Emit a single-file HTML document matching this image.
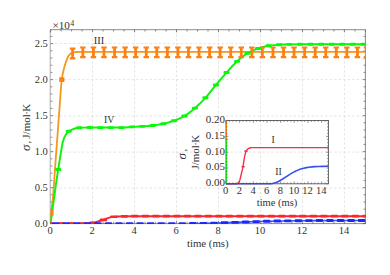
<!DOCTYPE html>
<html><head><meta charset="utf-8"><title>chart</title>
<style>html,body{margin:0;padding:0;background:#fff;}body{width:390px;height:275px;overflow:hidden;font-family:"Liberation Serif",serif;}</style></head>
<body>
<svg width="390" height="275" viewBox="0 0 390 275" style="display:block">
<rect width="390" height="275" fill="#fff"/>
<path d="M92.57,29.7 V223.6 M134.55,29.7 V223.6 M176.52,29.7 V223.6 M218.49,29.7 V223.6 M260.47,29.7 V223.6 M302.44,29.7 V223.6 M344.41,29.7 V223.6 M50.6,188.10 H365.4 M50.6,152.10 H365.4 M50.6,116.10 H365.4 M50.6,79.60 H365.4 M50.6,43.50 H365.4" stroke="#d6d6d6" stroke-width="0.65" stroke-dasharray="2.4,2.1" fill="none"/>
<path d="M50.30,29.7 V223.6" fill="none" stroke="#c2c2c2" stroke-width="1.4"/>
<path d="M50.00,29.7 H365.4 V223.6 H50.00" fill="none" stroke="#4a4a4a" stroke-width="0.65"/>
<path d="M50.60,223.6 v-2.6 M50.60,29.7 v2.6 M61.09,223.6 v-1.8 M61.09,29.7 v1.8 M71.59,223.6 v-1.8 M71.59,29.7 v1.8 M82.08,223.6 v-1.8 M82.08,29.7 v1.8 M92.57,223.6 v-2.6 M92.57,29.7 v2.6 M103.07,223.6 v-1.8 M103.07,29.7 v1.8 M113.56,223.6 v-1.8 M113.56,29.7 v1.8 M124.05,223.6 v-1.8 M124.05,29.7 v1.8 M134.55,223.6 v-2.6 M134.55,29.7 v2.6 M145.04,223.6 v-1.8 M145.04,29.7 v1.8 M155.53,223.6 v-1.8 M155.53,29.7 v1.8 M166.03,223.6 v-1.8 M166.03,29.7 v1.8 M176.52,223.6 v-2.6 M176.52,29.7 v2.6 M187.01,223.6 v-1.8 M187.01,29.7 v1.8 M197.51,223.6 v-1.8 M197.51,29.7 v1.8 M208.00,223.6 v-1.8 M208.00,29.7 v1.8 M218.49,223.6 v-2.6 M218.49,29.7 v2.6 M228.99,223.6 v-1.8 M228.99,29.7 v1.8 M239.48,223.6 v-1.8 M239.48,29.7 v1.8 M249.97,223.6 v-1.8 M249.97,29.7 v1.8 M260.47,223.6 v-2.6 M260.47,29.7 v2.6 M270.96,223.6 v-1.8 M270.96,29.7 v1.8 M281.45,223.6 v-1.8 M281.45,29.7 v1.8 M291.95,223.6 v-1.8 M291.95,29.7 v1.8 M302.44,223.6 v-2.6 M302.44,29.7 v2.6 M312.93,223.6 v-1.8 M312.93,29.7 v1.8 M323.43,223.6 v-1.8 M323.43,29.7 v1.8 M333.92,223.6 v-1.8 M333.92,29.7 v1.8 M344.41,223.6 v-2.6 M344.41,29.7 v2.6 M354.91,223.6 v-1.8 M354.91,29.7 v1.8 M365.40,223.6 v-1.8 M365.40,29.7 v1.8 M50.6,223.60 h2.6 M365.4,223.60 h-2.6 M50.6,216.40 h1.8 M365.4,216.40 h-1.8 M50.6,209.20 h1.8 M365.4,209.20 h-1.8 M50.6,202.00 h1.8 M365.4,202.00 h-1.8 M50.6,194.80 h1.8 M365.4,194.80 h-1.8 M50.6,187.60 h2.6 M365.4,187.60 h-2.6 M50.6,180.40 h1.8 M365.4,180.40 h-1.8 M50.6,173.20 h1.8 M365.4,173.20 h-1.8 M50.6,166.00 h1.8 M365.4,166.00 h-1.8 M50.6,158.80 h1.8 M365.4,158.80 h-1.8 M50.6,151.60 h2.6 M365.4,151.60 h-2.6 M50.6,144.40 h1.8 M365.4,144.40 h-1.8 M50.6,137.20 h1.8 M365.4,137.20 h-1.8 M50.6,130.00 h1.8 M365.4,130.00 h-1.8 M50.6,122.80 h1.8 M365.4,122.80 h-1.8 M50.6,115.60 h2.6 M365.4,115.60 h-2.6 M50.6,108.40 h1.8 M365.4,108.40 h-1.8 M50.6,101.20 h1.8 M365.4,101.20 h-1.8 M50.6,94.00 h1.8 M365.4,94.00 h-1.8 M50.6,86.80 h1.8 M365.4,86.80 h-1.8 M50.6,79.60 h2.6 M365.4,79.60 h-2.6 M50.6,72.40 h1.8 M365.4,72.40 h-1.8 M50.6,65.20 h1.8 M365.4,65.20 h-1.8 M50.6,58.00 h1.8 M365.4,58.00 h-1.8 M50.6,50.80 h1.8 M365.4,50.80 h-1.8 M50.6,43.60 h2.6 M365.4,43.60 h-2.6 M50.6,36.40 h1.8 M365.4,36.40 h-1.8" stroke="#4a4a4a" stroke-width="0.65" fill="none"/>
<clipPath id="mc"><rect x="50.30" y="29.7" width="315.70" height="194.35"/></clipPath>
<g clip-path="url(#mc)">
<path d="M50.60,222.21 L51.12,215.34 L51.54,210.53 L52.70,200.11 L53.12,195.38 L55.43,163.16 L59.73,105.44 L60.78,90.70 L61.30,84.22 L61.72,80.19 L62.46,75.38 L62.88,73.20 L63.51,70.39 L64.14,67.87 L64.77,65.61 L65.50,63.26 L66.24,61.15 L67.49,57.87 L68.02,56.72 L68.44,55.99 L69.17,55.02 L69.91,54.24 L70.64,53.64 L71.69,52.99 L72.32,52.69 L72.85,52.51 L73.90,52.27 L74.94,52.10 L76.52,51.98 L79.77,51.90 L365.40,51.90" stroke="#f4981e" stroke-width="1.8" fill="none" stroke-linejoin="round"/>
<path d="M50.60,222.25 L53.54,201.86 L55.74,185.64 L56.58,179.78 L60.25,156.36 L61.93,146.35 L62.56,142.99 L62.98,141.21 L63.72,138.97 L64.45,137.19 L65.40,135.38 L66.55,133.57 L67.60,132.27 L68.54,131.43 L69.80,130.61 L70.96,130.02 L71.90,129.60 L74.94,128.50 L75.78,128.25 L77.25,127.92 L78.72,127.71 L83.13,127.60 L88.38,127.55 L121.95,127.59 L124.58,127.46 L131.40,126.92 L143.47,126.33 L147.66,126.01 L151.86,125.59 L155.53,125.14 L159.21,124.55 L163.40,123.74 L166.03,123.13 L169.17,122.25 L172.85,121.06 L176.00,119.91 L178.62,118.83 L181.24,117.61 L183.87,116.25 L185.96,115.03 L188.06,113.61 L191.21,111.22 L194.88,108.17 L196.98,106.32 L199.61,103.83 L203.28,100.08 L205.38,97.83 L206.95,96.07 L209.57,92.92 L214.82,86.36 L220.59,79.44 L224.79,74.53 L230.04,68.61 L232.66,65.73 L234.76,63.56 L236.86,61.57 L240.00,58.77 L242.63,56.60 L245.25,54.68 L247.35,53.38 L249.97,51.94 L253.12,50.41 L255.74,49.31 L258.89,48.20 L262.04,47.20 L264.14,46.62 L266.24,46.15 L268.34,45.81 L271.48,45.40 L274.11,45.13 L277.26,44.88 L282.50,44.59 L286.18,44.45 L293.00,44.36 L305.59,44.30 L365.40,44.30" stroke="#0cf40c" stroke-width="1.95" fill="none" stroke-linejoin="round"/>
<path d="M84.18,223.57 L87.33,223.47 L88.90,223.37 L91.52,223.08 L93.62,222.73 L95.20,222.31 L97.82,221.52 L102.02,220.38 L103.07,220.00 L106.21,218.67 L107.26,218.28 L109.36,217.61 L111.46,217.07 L113.04,216.85 L115.13,216.66 L118.81,216.44 L121.43,216.34 L131.40,216.22 L365.40,216.22" stroke="#f0283a" stroke-width="1.9" fill="none"/>
<path d="M189.11,223.59 L199.61,223.47 L210.62,223.21 L221.64,222.86 L257.32,221.56 L270.44,221.19 L283.03,220.93 L298.24,220.71 L315.03,220.58 L335.49,220.51 L365.40,220.49" stroke="#2860e2" stroke-width="1.6" fill="none"/>
<path d="M72.61,48.70 V58.30 M82.87,47.50 V57.10 M93.43,47.50 V57.10 M103.99,47.50 V57.10 M114.55,47.50 V57.10 M125.11,47.50 V57.10 M135.67,47.50 V57.10 M146.23,47.50 V57.10 M156.79,47.50 V57.10 M167.35,47.50 V57.10 M177.91,47.50 V57.10 M188.47,47.50 V57.10 M199.03,47.50 V57.10 M209.59,47.50 V57.10 M220.15,47.50 V57.10 M230.71,47.50 V57.10 M241.27,47.50 V57.10 M251.83,47.50 V57.10 M262.39,47.50 V57.10 M272.95,47.50 V57.10 M283.51,47.50 V57.10 M294.07,47.50 V57.10 M304.63,47.50 V57.10 M315.19,47.50 V57.10 M325.75,47.50 V57.10 M336.31,47.50 V57.10 M346.87,47.50 V57.10 M357.43,47.50 V57.10 M366.50,47.50 V57.10" stroke="#ff8010" stroke-width="2.8" fill="none"/>
<path d="M69.86,48.70 h5.5 M69.86,58.30 h5.5 M80.12,47.50 h5.5 M80.12,57.10 h5.5 M90.68,47.50 h5.5 M90.68,57.10 h5.5 M101.24,47.50 h5.5 M101.24,57.10 h5.5 M111.80,47.50 h5.5 M111.80,57.10 h5.5 M122.36,47.50 h5.5 M122.36,57.10 h5.5 M132.92,47.50 h5.5 M132.92,57.10 h5.5 M143.48,47.50 h5.5 M143.48,57.10 h5.5 M154.04,47.50 h5.5 M154.04,57.10 h5.5 M164.60,47.50 h5.5 M164.60,57.10 h5.5 M175.16,47.50 h5.5 M175.16,57.10 h5.5 M185.72,47.50 h5.5 M185.72,57.10 h5.5 M196.28,47.50 h5.5 M196.28,57.10 h5.5 M206.84,47.50 h5.5 M206.84,57.10 h5.5 M217.40,47.50 h5.5 M217.40,57.10 h5.5 M227.96,47.50 h5.5 M227.96,57.10 h5.5 M238.52,47.50 h5.5 M238.52,57.10 h5.5 M249.08,47.50 h5.5 M249.08,57.10 h5.5 M259.64,47.50 h5.5 M259.64,57.10 h5.5 M270.20,47.50 h5.5 M270.20,57.10 h5.5 M280.76,47.50 h5.5 M280.76,57.10 h5.5 M291.32,47.50 h5.5 M291.32,57.10 h5.5 M301.88,47.50 h5.5 M301.88,57.10 h5.5 M312.44,47.50 h5.5 M312.44,57.10 h5.5 M323.00,47.50 h5.5 M323.00,57.10 h5.5 M333.56,47.50 h5.5 M333.56,57.10 h5.5 M344.12,47.50 h5.5 M344.12,57.10 h5.5 M354.68,47.50 h5.5 M354.68,57.10 h5.5 M363.75,47.50 h5.5 M363.75,57.10 h5.5" stroke="#ff8010" stroke-width="2.2" fill="none"/>
<rect x="59.20" y="77.30" width="5.2" height="4.6" fill="#ff8010"/>
<path d="M51.8,209.6 V215 M50.1,209.9 h3.6 M50.1,214.7 h3.6" stroke="#ff8010" stroke-width="1.5" fill="none"/>
<rect x="50.3" y="210.8" width="3.2" height="3" fill="#ff8010"/>
<rect x="55.20" y="168.05" width="6" height="2.9" rx="1" fill="#04fb04"/>
<rect x="65.72" y="129.85" width="6" height="2.9" rx="1" fill="#04fb04"/>
<rect x="76.24" y="126.24" width="6" height="2.9" rx="1" fill="#04fb04"/>
<rect x="86.76" y="126.10" width="6" height="2.9" rx="1" fill="#04fb04"/>
<rect x="97.28" y="126.13" width="6" height="2.9" rx="1" fill="#04fb04"/>
<rect x="107.80" y="126.15" width="6" height="2.9" rx="1" fill="#04fb04"/>
<rect x="118.32" y="126.15" width="6" height="2.9" rx="1" fill="#04fb04"/>
<rect x="128.84" y="125.45" width="6" height="2.9" rx="1" fill="#04fb04"/>
<rect x="139.36" y="124.95" width="6" height="2.9" rx="1" fill="#04fb04"/>
<rect x="149.88" y="124.03" width="6" height="2.9" rx="1" fill="#04fb04"/>
<rect x="160.40" y="122.29" width="6" height="2.9" rx="1" fill="#04fb04"/>
<rect x="170.92" y="119.24" width="6" height="2.9" rx="1" fill="#04fb04"/>
<rect x="181.44" y="114.48" width="6" height="2.9" rx="1" fill="#04fb04"/>
<rect x="191.96" y="106.66" width="6" height="2.9" rx="1" fill="#04fb04"/>
<rect x="202.48" y="96.27" width="6" height="2.9" rx="1" fill="#04fb04"/>
<rect x="213.00" y="83.49" width="6" height="2.9" rx="1" fill="#04fb04"/>
<rect x="223.52" y="71.12" width="6" height="2.9" rx="1" fill="#04fb04"/>
<rect x="234.04" y="59.95" width="6" height="2.9" rx="1" fill="#04fb04"/>
<rect x="244.56" y="51.81" width="6" height="2.9" rx="1" fill="#04fb04"/>
<rect x="255.08" y="47.02" width="6" height="2.9" rx="1" fill="#04fb04"/>
<rect x="265.60" y="44.32" width="6" height="2.9" rx="1" fill="#04fb04"/>
<rect x="276.12" y="43.32" width="6" height="2.9" rx="1" fill="#04fb04"/>
<rect x="286.64" y="42.94" width="6" height="2.9" rx="1" fill="#04fb04"/>
<rect x="297.16" y="42.87" width="6" height="2.9" rx="1" fill="#04fb04"/>
<rect x="307.68" y="42.85" width="6" height="2.9" rx="1" fill="#04fb04"/>
<rect x="318.20" y="42.85" width="6" height="2.9" rx="1" fill="#04fb04"/>
<rect x="328.72" y="42.85" width="6" height="2.9" rx="1" fill="#04fb04"/>
<rect x="339.24" y="42.85" width="6" height="2.9" rx="1" fill="#04fb04"/>
<rect x="349.76" y="42.85" width="6" height="2.9" rx="1" fill="#04fb04"/>
<rect x="360.28" y="42.85" width="6" height="2.9" rx="1" fill="#04fb04"/>
<rect x="47.25" y="222.25" width="7.3" height="2.7" rx="0.8" fill="#ff2626"/>
<rect x="57.75" y="222.25" width="7.3" height="2.7" rx="0.8" fill="#ff2626"/>
<rect x="68.25" y="222.25" width="7.3" height="2.7" rx="0.8" fill="#ff2626"/>
<rect x="78.75" y="222.25" width="7.3" height="2.7" rx="0.8" fill="#ff2626"/>
<rect x="89.25" y="221.53" width="7.3" height="2.7" rx="0.8" fill="#ff2626"/>
<rect x="99.75" y="218.51" width="7.3" height="2.7" rx="0.8" fill="#ff2626"/>
<rect x="110.25" y="215.41" width="7.3" height="2.7" rx="0.8" fill="#ff2626"/>
<rect x="120.75" y="214.94" width="7.3" height="2.7" rx="0.8" fill="#ff2626"/>
<rect x="131.25" y="214.87" width="7.3" height="2.7" rx="0.8" fill="#ff2626"/>
<rect x="141.75" y="214.87" width="7.3" height="2.7" rx="0.8" fill="#ff2626"/>
<rect x="152.25" y="214.87" width="7.3" height="2.7" rx="0.8" fill="#ff2626"/>
<rect x="162.75" y="214.87" width="7.3" height="2.7" rx="0.8" fill="#ff2626"/>
<rect x="173.25" y="214.87" width="7.3" height="2.7" rx="0.8" fill="#ff2626"/>
<rect x="183.75" y="214.87" width="7.3" height="2.7" rx="0.8" fill="#ff2626"/>
<rect x="194.25" y="214.87" width="7.3" height="2.7" rx="0.8" fill="#ff2626"/>
<rect x="204.75" y="214.87" width="7.3" height="2.7" rx="0.8" fill="#ff2626"/>
<rect x="215.25" y="214.87" width="7.3" height="2.7" rx="0.8" fill="#ff2626"/>
<rect x="225.75" y="214.87" width="7.3" height="2.7" rx="0.8" fill="#ff2626"/>
<rect x="236.25" y="214.87" width="7.3" height="2.7" rx="0.8" fill="#ff2626"/>
<rect x="246.75" y="214.87" width="7.3" height="2.7" rx="0.8" fill="#ff2626"/>
<rect x="257.25" y="214.87" width="7.3" height="2.7" rx="0.8" fill="#ff2626"/>
<rect x="267.75" y="214.87" width="7.3" height="2.7" rx="0.8" fill="#ff2626"/>
<rect x="278.25" y="214.87" width="7.3" height="2.7" rx="0.8" fill="#ff2626"/>
<rect x="288.75" y="214.87" width="7.3" height="2.7" rx="0.8" fill="#ff2626"/>
<rect x="299.25" y="214.87" width="7.3" height="2.7" rx="0.8" fill="#ff2626"/>
<rect x="309.75" y="214.87" width="7.3" height="2.7" rx="0.8" fill="#ff2626"/>
<rect x="320.25" y="214.87" width="7.3" height="2.7" rx="0.8" fill="#ff2626"/>
<rect x="330.75" y="214.87" width="7.3" height="2.7" rx="0.8" fill="#ff2626"/>
<rect x="341.25" y="214.87" width="7.3" height="2.7" rx="0.8" fill="#ff2626"/>
<rect x="351.75" y="214.87" width="7.3" height="2.7" rx="0.8" fill="#ff2626"/>
<rect x="362.25" y="214.87" width="7.3" height="2.7" rx="0.8" fill="#ff2626"/>
<rect x="52.05" y="222.15" width="7.3" height="2.9" rx="0.8" fill="#2424ff"/>
<rect x="62.60" y="222.15" width="7.3" height="2.9" rx="0.8" fill="#2424ff"/>
<rect x="73.15" y="222.15" width="7.3" height="2.9" rx="0.8" fill="#2424ff"/>
<rect x="83.70" y="222.15" width="7.3" height="2.9" rx="0.8" fill="#2424ff"/>
<rect x="94.25" y="222.15" width="7.3" height="2.9" rx="0.8" fill="#2424ff"/>
<rect x="104.80" y="222.15" width="7.3" height="2.9" rx="0.8" fill="#2424ff"/>
<rect x="115.35" y="222.15" width="7.3" height="2.9" rx="0.8" fill="#2424ff"/>
<rect x="125.90" y="222.15" width="7.3" height="2.9" rx="0.8" fill="#2424ff"/>
<rect x="136.45" y="222.15" width="7.3" height="2.9" rx="0.8" fill="#2424ff"/>
<rect x="147.00" y="222.15" width="7.3" height="2.9" rx="0.8" fill="#2424ff"/>
<rect x="157.55" y="222.15" width="7.3" height="2.9" rx="0.8" fill="#2424ff"/>
<rect x="168.10" y="222.15" width="7.3" height="2.9" rx="0.8" fill="#2424ff"/>
<rect x="178.65" y="222.15" width="7.3" height="2.9" rx="0.8" fill="#2424ff"/>
<rect x="189.20" y="222.11" width="7.3" height="2.9" rx="0.8" fill="#2424ff"/>
<rect x="199.75" y="221.94" width="7.3" height="2.9" rx="0.8" fill="#2424ff"/>
<rect x="210.30" y="221.66" width="7.3" height="2.9" rx="0.8" fill="#2424ff"/>
<rect x="220.85" y="221.30" width="7.3" height="2.9" rx="0.8" fill="#2424ff"/>
<rect x="231.40" y="220.91" width="7.3" height="2.9" rx="0.8" fill="#2424ff"/>
<rect x="241.95" y="220.51" width="7.3" height="2.9" rx="0.8" fill="#2424ff"/>
<rect x="252.50" y="220.15" width="7.3" height="2.9" rx="0.8" fill="#2424ff"/>
<rect x="263.05" y="219.84" width="7.3" height="2.9" rx="0.8" fill="#2424ff"/>
<rect x="273.60" y="219.59" width="7.3" height="2.9" rx="0.8" fill="#2424ff"/>
<rect x="284.15" y="219.40" width="7.3" height="2.9" rx="0.8" fill="#2424ff"/>
<rect x="294.70" y="219.26" width="7.3" height="2.9" rx="0.8" fill="#2424ff"/>
<rect x="305.25" y="219.17" width="7.3" height="2.9" rx="0.8" fill="#2424ff"/>
<rect x="315.80" y="219.11" width="7.3" height="2.9" rx="0.8" fill="#2424ff"/>
<rect x="326.35" y="219.08" width="7.3" height="2.9" rx="0.8" fill="#2424ff"/>
<rect x="336.90" y="219.05" width="7.3" height="2.9" rx="0.8" fill="#2424ff"/>
<rect x="347.45" y="219.04" width="7.3" height="2.9" rx="0.8" fill="#2424ff"/>
<rect x="358.00" y="219.04" width="7.3" height="2.9" rx="0.8" fill="#2424ff"/>
</g>
<g font-family="Liberation Serif, serif" font-size="10.5" fill="#333">
<text x="47.8" y="227.00" text-anchor="end">0.0</text>
<text x="47.8" y="191.00" text-anchor="end">0.5</text>
<text x="47.8" y="155.00" text-anchor="end">1.0</text>
<text x="47.8" y="119.00" text-anchor="end">1.5</text>
<text x="47.8" y="83.00" text-anchor="end">2.0</text>
<text x="47.8" y="47.00" text-anchor="end">2.5</text>
<text x="50.20" y="233.6" text-anchor="middle">0</text>
<text x="92.17" y="233.6" text-anchor="middle">2</text>
<text x="134.15" y="233.6" text-anchor="middle">4</text>
<text x="176.12" y="233.6" text-anchor="middle">6</text>
<text x="218.09" y="233.6" text-anchor="middle">8</text>
<text x="260.07" y="233.6" text-anchor="middle">10</text>
<text x="302.04" y="233.6" text-anchor="middle">12</text>
<text x="344.01" y="233.6" text-anchor="middle">14</text>
<text x="207.8" y="247.2" text-anchor="middle" font-size="10.8">time (ms)</text>
<text transform="translate(30.2,151) rotate(-90)" font-size="13" font-style="italic">σ</text>
<text transform="translate(30.2,143.4) rotate(-90)" font-size="10.8">,</text>
<text transform="translate(30.2,138.7) rotate(-90)" font-size="11">J/mol<tspan dx="-0.6">·</tspan><tspan dx="-0.6">K</tspan></text>
<text x="52.4" y="28.6" font-size="11.2">×10<tspan dy="-3" dx="0.3" font-size="8">4</tspan></text>
<text x="93.8" y="43.5">III</text>
<text x="104" y="122.8" font-size="9.8">IV</text>
</g>
<clipPath id="ic"><rect x="226.0" y="120.5" width="102.40" height="64.50"/></clipPath>
<g clip-path="url(#ic)">
<path d="M226.00,183.80 L236.41,183.79 L237.09,183.61 L237.95,183.17 L238.29,182.88 L238.80,182.19 L239.65,180.51 L239.99,179.54 L240.51,177.49 L241.36,173.61 L242.38,169.55 L242.90,167.11 L244.09,159.61 L244.60,156.84 L245.11,154.41 L245.80,151.77 L245.97,151.32 L246.31,150.70 L246.99,149.79 L248.19,148.70 L248.70,148.36 L249.04,148.21 L250.75,147.76 L251.60,147.63 L252.28,147.59 L328.40,147.59" stroke="#f2304a" stroke-width="1.4" fill="none"/>
<path d="M226.00,183.80 L269.69,183.80 L270.89,183.75 L272.25,183.58 L273.62,183.29 L275.15,182.83 L276.69,182.24 L278.39,181.44 L280.10,180.52 L281.81,179.51 L289.49,174.57 L291.37,173.42 L293.24,172.35 L295.29,171.29 L297.34,170.35 L299.39,169.54 L301.43,168.84 L303.82,168.18 L306.38,167.63 L308.94,167.21 L311.85,166.88 L314.92,166.64 L318.50,166.48 L322.77,166.37 L328.40,166.32" stroke="#3450ee" stroke-width="1.55" fill="none"/>
<path d="M241.5,166.7 h3.2 M244.4,151.3 h3.2" stroke="#f2304a" stroke-width="1.4" fill="none"/>
</g>
<rect x="226.0" y="120.5" width="102.40" height="63.30" fill="none" stroke="#555" stroke-width="0.9"/>
<path d="M226.5,184.20000000000002 V139" stroke="#0cf40c" stroke-width="1.25" fill="none"/>
<path d="M226.45,139.6 V120.1 M225.4,139.2 h2.8" stroke="#ff8010" stroke-width="1.1" fill="none"/>
<path d="M226.00,183.8 v-2.4 M226.00,120.5 v2.4 M229.41,183.8 v-1.4 M229.41,120.5 v1.4 M232.83,183.8 v-1.4 M232.83,120.5 v1.4 M236.24,183.8 v-1.4 M236.24,120.5 v1.4 M239.65,183.8 v-2.4 M239.65,120.5 v2.4 M243.07,183.8 v-1.4 M243.07,120.5 v1.4 M246.48,183.8 v-1.4 M246.48,120.5 v1.4 M249.89,183.8 v-1.4 M249.89,120.5 v1.4 M253.31,183.8 v-2.4 M253.31,120.5 v2.4 M256.72,183.8 v-1.4 M256.72,120.5 v1.4 M260.13,183.8 v-1.4 M260.13,120.5 v1.4 M263.55,183.8 v-1.4 M263.55,120.5 v1.4 M266.96,183.8 v-2.4 M266.96,120.5 v2.4 M270.37,183.8 v-1.4 M270.37,120.5 v1.4 M273.79,183.8 v-1.4 M273.79,120.5 v1.4 M277.20,183.8 v-1.4 M277.20,120.5 v1.4 M280.61,183.8 v-2.4 M280.61,120.5 v2.4 M284.03,183.8 v-1.4 M284.03,120.5 v1.4 M287.44,183.8 v-1.4 M287.44,120.5 v1.4 M290.85,183.8 v-1.4 M290.85,120.5 v1.4 M294.27,183.8 v-2.4 M294.27,120.5 v2.4 M297.68,183.8 v-1.4 M297.68,120.5 v1.4 M301.09,183.8 v-1.4 M301.09,120.5 v1.4 M304.51,183.8 v-1.4 M304.51,120.5 v1.4 M307.92,183.8 v-2.4 M307.92,120.5 v2.4 M311.33,183.8 v-1.4 M311.33,120.5 v1.4 M314.75,183.8 v-1.4 M314.75,120.5 v1.4 M318.16,183.8 v-1.4 M318.16,120.5 v1.4 M321.57,183.8 v-2.4 M321.57,120.5 v2.4 M324.99,183.8 v-1.4 M324.99,120.5 v1.4 M328.40,183.8 v-1.4 M328.40,120.5 v1.4 M226.0,183.80 h2.4 M328.4,183.80 h-2.4 M226.0,180.64 h1.4 M328.4,180.64 h-1.4 M226.0,177.48 h1.4 M328.4,177.48 h-1.4 M226.0,174.32 h1.4 M328.4,174.32 h-1.4 M226.0,171.16 h1.4 M328.4,171.16 h-1.4 M226.0,168.00 h2.4 M328.4,168.00 h-2.4 M226.0,164.84 h1.4 M328.4,164.84 h-1.4 M226.0,161.68 h1.4 M328.4,161.68 h-1.4 M226.0,158.52 h1.4 M328.4,158.52 h-1.4 M226.0,155.36 h1.4 M328.4,155.36 h-1.4 M226.0,152.20 h2.4 M328.4,152.20 h-2.4 M226.0,149.04 h1.4 M328.4,149.04 h-1.4 M226.0,145.88 h1.4 M328.4,145.88 h-1.4 M226.0,142.72 h1.4 M328.4,142.72 h-1.4 M226.0,139.56 h1.4 M328.4,139.56 h-1.4 M226.0,136.40 h2.4 M328.4,136.40 h-2.4 M226.0,133.24 h1.4 M328.4,133.24 h-1.4 M226.0,130.08 h1.4 M328.4,130.08 h-1.4 M226.0,126.92 h1.4 M328.4,126.92 h-1.4 M226.0,123.76 h1.4 M328.4,123.76 h-1.4 M226.0,120.60 h2.4 M328.4,120.60 h-2.4" stroke="#555" stroke-width="0.6" fill="none"/>
<g font-family="Liberation Serif, serif" font-size="10.5" fill="#333">
<text x="224.9" y="186.30" text-anchor="end" font-size="11">0.00</text>
<text x="224.9" y="170.40" text-anchor="end" font-size="11">0.05</text>
<text x="224.9" y="154.50" text-anchor="end" font-size="11">0.10</text>
<text x="224.9" y="138.60" text-anchor="end" font-size="11">0.15</text>
<text x="224.9" y="122.70" text-anchor="end" font-size="11">0.20</text>
<text x="225.70" y="193.8" text-anchor="middle">0</text>
<text x="239.35" y="193.8" text-anchor="middle">2</text>
<text x="253.01" y="193.8" text-anchor="middle">4</text>
<text x="266.66" y="193.8" text-anchor="middle">6</text>
<text x="280.31" y="193.8" text-anchor="middle">8</text>
<text x="293.97" y="193.8" text-anchor="middle">10</text>
<text x="307.62" y="193.8" text-anchor="middle">12</text>
<text x="321.27" y="193.8" text-anchor="middle">14</text>
<text x="277" y="205.5" text-anchor="middle">time (ms)</text>
<text transform="translate(186.2,159.4) rotate(-90)" font-size="13" font-style="italic">σ</text>
<text transform="translate(186.2,151.6) rotate(-90)" font-size="10.8">,</text>
<text transform="translate(198.6,169.6) rotate(-90)" font-size="11">J/mol<tspan dx="-0.6">·</tspan><tspan dx="-0.6">K</tspan></text>
<text x="271.4" y="142.7" font-size="9.8">I</text>
<text x="275.3" y="174.7" font-size="9.8">II</text>
</g>
</svg>
</body></html>
